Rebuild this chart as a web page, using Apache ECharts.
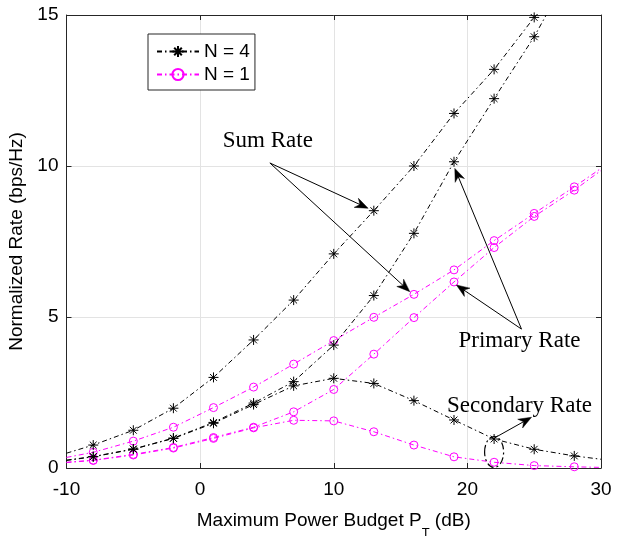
<!DOCTYPE html>
<html>
<head>
<meta charset="utf-8">
<script src="https://cdn.jsdelivr.net/npm/echarts@6/dist/echarts.min.js"></script>
<style>
  html, body { margin: 0; padding: 0; background: #fff; }
  #chart { width: 620px; height: 536px; }
</style>
</head>
<body>
<div id="chart"></div>
<script>
// Power budget (dB) where markers are placed
const markerDb = [-8, -5, -2, 1, 4, 7, 10, 13, 16, 19, 22, 25, 28];

// N = 4 (black, asterisk markers)
const n4Sum       = [0.76, 1.25, 1.98, 3.00, 4.24, 5.56, 7.09, 8.52, 10.00, 11.74, 13.20, 14.92, null];
const n4Primary   = [0.38, 0.63, 0.99, 1.51, 2.15, 2.86, 4.07, 5.71, 7.77, 10.14, 12.23, 14.28, null];
const n4Secondary = [0.37, 0.62, 0.98, 1.48, 2.10, 2.72, 2.97, 2.80, 2.23, 1.59, 0.96, 0.62, 0.40];

// N = 1 (magenta, circle markers)
const n1Sum       = [0.52, 0.89, 1.35, 2.00, 2.68, 3.44, 4.22, 4.99, 5.75, 6.56, 7.53, 8.43, 9.31];
const n1Primary   = [0.26, 0.45, 0.68, 1.01, 1.35, 1.86, 2.60, 3.77, 4.98, 6.16, 7.30, 8.33, 9.20];
const n1Secondary = [0.25, 0.43, 0.66, 0.98, 1.33, 1.58, 1.56, 1.20, 0.76, 0.37, 0.19, 0.08, 0.04];

// Curve end points (no marker): [dB, rate]
const n4SumEnds       = [[-10, 0.49], [25.2, 15]];
const n4PrimaryEnds   = [[-10, 0.26], [25.9, 15]];
const n4SecondaryEnds = [[-10, 0.25], [30, 0.29]];
const n1SumEnds       = [[-10, 0.35], [30, 9.92]];
const n1PrimaryEnds   = [[-10, 0.19], [30, 9.85]];
const n1SecondaryEnds = [[-10, 0.18], [30, 0.02]];

// Axis ticks
const xTicks = [-10, 0, 10, 20, 30];
const yTicks = [0, 5, 10, 15];

// Annotation anchors in data units
const sumLabel = { text: 'Sum Rate', at: [5.07, 10.83] };
const sumArrows = { from: [5.22, 10.1], to: [[12.57, 8.6], [15.69, 5.84]] };
const primaryLabel = { text: 'Primary Rate', at: [23.9, 4.2] };
const primaryArrows = { from: [24.05, 4.6], to: [[19.06, 9.92], [19.18, 6.06]] };
const secondaryLabel = { text: 'Secondary Rate', at: [23.9, 2.07] };
const secondaryArrow = { from: [22.05, 1.0], to: [24.8, 1.68] };
const secondaryEllipse = { at: [22.0, 0.53], rx: 9.5, ry: 15.5 };

const BLACK = '#000000';
const MAGENTA = '#ff00ff';
const AXIS = '#262626';
const DASHDOT = [5, 3, 1.5, 3];
const ASTERISK = 'path://M5 0L5 10M0 5L10 5M1.6 1.6L8.4 8.4M1.6 8.4L8.4 1.6';

function buildData(values, ends) {
  const pts = [{ value: ends[0], symbol: 'none' }];
  markerDb.forEach((x, i) => {
    if (values[i] !== null) pts.push({ value: [x, values[i]] });
  });
  pts.push({ value: ends[1], symbol: 'none' });
  return pts;
}

function curve(name, values, ends, color, isStar) {
  return {
    name: name,
    type: 'line',
    data: buildData(values, ends),
    symbol: isStar ? ASTERISK : 'circle',
    symbolSize: isStar ? 10 : 8,
    showAllSymbol: true,
    clip: true,
    silent: true,
    z: isStar ? 3 : 2,
    lineStyle: { color: color, width: 1, type: DASHDOT },
    itemStyle: isStar
      ? { color: BLACK, borderColor: BLACK, borderWidth: 1 }
      : { color: 'rgba(255,255,255,0)', borderColor: MAGENTA, borderWidth: 1 },
    emphasis: { disabled: true }
  };
}

const FONT = 'Liberation Sans, Arial, Helvetica, sans-serif';
const SERIF = 'Liberation Serif, Times New Roman, serif';

const option = {
  animation: false,
  backgroundColor: '#ffffff',
  grid: { left: 66.5, right: 19, top: 15, bottom: 68, containLabel: false, outerBoundsMode: 'none' },
  legend: {
    data: ['N = 4', 'N = 1'],
    orient: 'vertical',
    left: 148,
    top: 34,
    padding: [8, 5, 6, 8],
    itemGap: 4,
    itemWidth: 42,
    itemHeight: 14,
    backgroundColor: '#ffffff',
    borderColor: AXIS,
    borderWidth: 1,
    selectedMode: false,
    textStyle: { fontFamily: FONT, fontSize: 19, color: BLACK, padding: [0, 0, 0, 0] }
  },
  xAxis: [
    {
      type: 'value', min: -10, max: 30, interval: 10,
      name: '{t|Maximum Power Budget P}{s|T}{t| (dB)}',
      nameLocation: 'middle', nameGap: 43,
      nameTextStyle: {
        rich: {
          t: { fontFamily: FONT, fontSize: 19, color: BLACK },
          s: { fontFamily: FONT, fontSize: 13, color: BLACK, verticalAlign: 'bottom', padding: [0, 0, -10, 0] }
        }
      },
      axisLine: { show: true, onZero: false, lineStyle: { color: AXIS, width: 1 } },
      axisTick: { show: true, inside: true, length: 5, lineStyle: { color: AXIS } },
      axisLabel: { fontFamily: FONT, fontSize: 19, color: BLACK, margin: 12,
        formatter: v => (xTicks.includes(v) ? String(v) : '') },
      splitLine: { show: true, lineStyle: { color: '#e3e3e3', width: 1 } }
    },
    {
      type: 'value', min: -10, max: 30, interval: 10, position: 'top',
      axisLine: { show: true, onZero: false, lineStyle: { color: AXIS, width: 1 } },
      axisTick: { show: true, inside: true, length: 5, lineStyle: { color: AXIS } },
      axisLabel: { show: false },
      splitLine: { show: false }
    }
  ],
  yAxis: [
    {
      type: 'value', min: 0, max: 15, interval: 5,
      name: 'Normalized Rate (bps/Hz)',
      nameLocation: 'middle', nameGap: 36,
      nameTextStyle: { fontFamily: FONT, fontSize: 19, color: BLACK },
      axisLine: { show: true, onZero: false, lineStyle: { color: AXIS, width: 1 } },
      axisTick: { show: true, inside: true, length: 5, lineStyle: { color: AXIS } },
      axisLabel: { fontFamily: FONT, fontSize: 19, color: BLACK, margin: 8,
        formatter: v => (yTicks.includes(v) ? String(v) : '') },
      splitLine: { show: true, lineStyle: { color: '#e3e3e3', width: 1 } }
    },
    {
      type: 'value', min: 0, max: 15, interval: 5, position: 'right',
      axisLine: { show: true, onZero: false, lineStyle: { color: AXIS, width: 1 } },
      axisTick: { show: true, inside: true, length: 5, lineStyle: { color: AXIS } },
      axisLabel: { show: false },
      splitLine: { show: false }
    }
  ],
  series: [
    curve('N = 4', n4Sum, n4SumEnds, BLACK, true),
    curve('N = 4', n4Primary, n4PrimaryEnds, BLACK, true),
    curve('N = 4', n4Secondary, n4SecondaryEnds, BLACK, true),
    curve('N = 1', n1Sum, n1SumEnds, MAGENTA, false),
    curve('N = 1', n1Primary, n1PrimaryEnds, MAGENTA, false),
    curve('N = 1', n1Secondary, n1SecondaryEnds, MAGENTA, false)
  ]
};

const chart = echarts.init(document.getElementById('chart'), null, { renderer: 'canvas' });
chart.setOption(option);

// Annotations: labels, arrows and the ellipse, placed via the axis scales
const px = p => chart.convertToPixel({ gridIndex: 0 }, p);

function arrow(fromData, toData) {
  const a = px(fromData), b = px(toData);
  const dx = b[0] - a[0], dy = b[1] - a[1];
  const len = Math.hypot(dx, dy);
  const ux = dx / len, uy = dy / len;
  const nx = -uy, ny = ux;
  const L = 13, W = 5, notch = 4;
  const back = [b[0] - ux * L, b[1] - uy * L];
  const mid = [b[0] - ux * (L - notch), b[1] - uy * (L - notch)];
  return [
    { type: 'line', silent: true, z: 10,
      shape: { x1: a[0], y1: a[1], x2: mid[0], y2: mid[1] },
      style: { stroke: BLACK, lineWidth: 1 } },
    { type: 'polygon', silent: true, z: 10,
      shape: { points: [b, [back[0] + nx * W, back[1] + ny * W], mid, [back[0] - nx * W, back[1] - ny * W]] },
      style: { fill: BLACK, stroke: BLACK, lineWidth: 0.5 } }
  ];
}

function label(lbl) {
  const p = px(lbl.at);
  return { type: 'text', silent: true, z: 11, x: p[0], y: p[1],
    style: { text: lbl.text, fontFamily: SERIF, fontSize: 23, fill: BLACK,
      align: 'center', verticalAlign: 'middle' } };
}

const ec = px(secondaryEllipse.at);
const graphics = [
  label(sumLabel),
  label(primaryLabel),
  label(secondaryLabel),
  ...sumArrows.to.flatMap(t => arrow(sumArrows.from, t)),
  ...primaryArrows.to.flatMap(t => arrow(primaryArrows.from, t)),
  ...arrow(secondaryArrow.from, secondaryArrow.to),
  { type: 'ellipse', silent: true, z: 10,
    shape: { cx: ec[0], cy: ec[1], rx: secondaryEllipse.rx, ry: secondaryEllipse.ry },
    style: { fill: 'none', stroke: BLACK, lineWidth: 1.2, lineDash: [7, 3, 2, 3] } }
];
chart.setOption({ graphic: graphics });
</script>
</body>
</html>
